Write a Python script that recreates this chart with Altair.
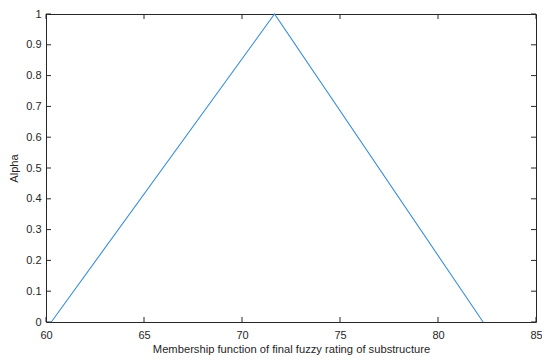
import altair as alt
import pandas as pd

# Membership function (triangle)
x_vals = [60.27, 71.66, 82.3]
alpha_vals = [0.0, 1.0, 0.0]

x_ticks = [60, 65, 70, 75, 80, 85]
y_ticks = [0, 0.1, 0.2, 0.3, 0.4, 0.5, 0.6, 0.7, 0.8, 0.9, 1]

W, H = 490, 308
AX = "#262626"
FONT = "Liberation Sans"
XT = "Membership function of final fuzzy rating of substructure"
YT = "Alpha"

df = pd.DataFrame({"x": x_vals, "alpha": alpha_vals})
xt = pd.DataFrame({"t": x_ticks})
yt = pd.DataFrame({"t": y_ticks})

xscale = alt.Scale(domain=[60, 85], nice=False, zero=False)
yscale = alt.Scale(domain=[0, 1], nice=False)

xaxis = alt.Axis(values=x_ticks, title=XT,
                 grid=False, domain=False, ticks=False, labelPadding=7, labelOverlap=False,
                 labelFlush=False,
                 labelFontSize=11, labelColor=AX, labelFont=FONT,
                 titleFontSize=11.2, titleFontWeight="normal", titleColor=AX, titleFont=FONT,
                 titlePadding=3)
yaxis = alt.Axis(values=y_ticks, format=".1~f", title=YT, grid=False, domain=False,
                 ticks=False, labelOverlap=False, labelFlush=False,
                 labelPadding=5, labelFontSize=11, labelColor=AX, labelFont=FONT,
                 titleFontSize=11.2, titleFontWeight="normal", titleColor=AX, titleFont=FONT,
                 titlePadding=6)

line = alt.Chart(df).mark_line(color="#3a8fd8", strokeWidth=1.1).encode(
    x=alt.X("x:Q", scale=xscale, axis=xaxis, title=XT),
    y=alt.Y("alpha:Q", scale=yscale, axis=yaxis, title=YT),
)

tick_style = dict(color=AX, strokeWidth=1)
xb = alt.Chart(xt).mark_rule(**tick_style).encode(
    x=alt.X("t:Q", scale=xscale, axis=xaxis, title=XT),
    y=alt.value(H), y2=alt.value(H - 5))
xtp = alt.Chart(xt).mark_rule(**tick_style).encode(
    x=alt.X("t:Q", scale=xscale, axis=xaxis, title=XT),
    y=alt.value(0), y2=alt.value(5))
yl = alt.Chart(yt).mark_rule(**tick_style).encode(
    y=alt.Y("t:Q", scale=yscale, axis=yaxis, title=YT), x=alt.value(0), x2=alt.value(5))
yr = alt.Chart(yt).mark_rule(**tick_style).encode(
    y=alt.Y("t:Q", scale=yscale, axis=yaxis, title=YT), x=alt.value(W - 5), x2=alt.value(W))

chart = alt.layer(line, xb, xtp, yl, yr).properties(
    width=W, height=H,
    autosize=alt.AutoSizeParams(type="none"),
    padding={"left": 38, "top": 6, "right": 6, "bottom": 39},
    background="white",
).configure_view(stroke=AX, strokeWidth=1)

chart.save("out.html", embed_options={"renderer": "svg", "actions": False})
